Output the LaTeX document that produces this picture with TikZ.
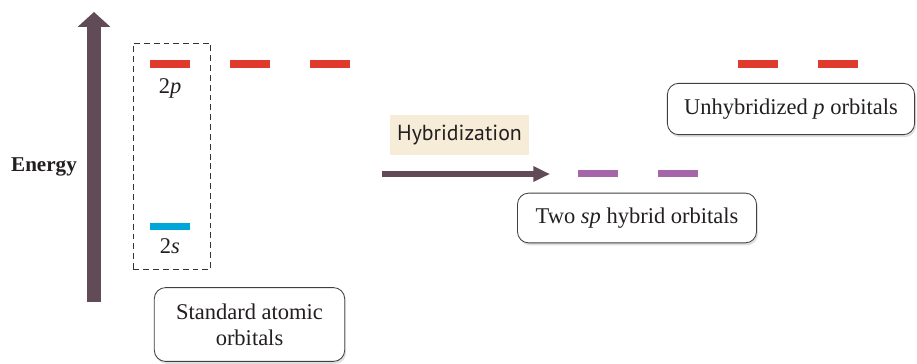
\documentclass[tikz,border=0pt]{standalone}
\usepackage{fontspec}
\setmainfont{Liberation Serif}
\newfontfamily\hybfont{PT Sans}
\usepackage{tikz}
\usetikzlibrary{arrows.meta,positioning,shadows}

\definecolor{orbred}{HTML}{E03A2F}
\definecolor{orbblue}{HTML}{00A6DA}
\definecolor{orbpurple}{HTML}{A566A9}
\definecolor{arrowplum}{HTML}{604B57}
\definecolor{hybtan}{HTML}{F6ECD8}
\definecolor{inkdark}{HTML}{231F20}

\begin{document}
\begin{tikzpicture}[
  x=0.025cm, y=-0.025cm,
  font=\fontsize{16}{18.5}\selectfont, text=inkdark,
  orb/.style={inner sep=0pt, minimum width=28.35pt, minimum height=5.3pt},
  lvl/.style={inner sep=0pt, font=\fontsize{16}{18.5}\selectfont},
  capbox/.style={
    rectangle, draw=black!75, fill=white, rounded corners=8pt,
    line width=0.6pt, align=center, inner sep=0pt,
    drop shadow={opacity=0.25, shadow xshift=1pt, shadow yshift=-1.8pt},
  },
  dashbox/.style={draw=black!80, line width=0.7pt, dash pattern=on 4.2pt off 2.8pt,
                  inner sep=0pt, minimum width=54.8pt, minimum height=161pt},
]
  \useasboundingbox (0,0) rectangle (917,363);
  % energy axis
  \coordinate (e-bot) at (94,302);
  \coordinate (e-top) at (94,12);
  \draw[arrowplum, line width=9.5pt, -{Triangle[width=22.7pt,length=10.6pt]}] (e-bot) -- (e-top);
  \node[font=\fontsize{15}{17}\selectfont\bfseries] (energy) at (44,167) {Energy};
  % standard atomic orbitals
  \node[dashbox] (std) at (172,156.3) {};
  \node[orb, fill=orbred] (p0) at (170,64) {};
  \node[orb, fill=orbred] (p1) at (250,64) {};
  \node[orb, fill=orbred] (p2) at (330,64) {};
  \node[orb, fill=orbblue] (s0) at (170,226.7) {};
  \node[lvl] (p-lbl) at (170,88) {2\textit{p}};
  \node[lvl] (s-lbl) at (170,246) {2\textit{s}};
  \node[capbox, minimum width=135.4pt, minimum height=52.5pt] (std-cap) at (249.5,324.5)
    {Standard atomic\\orbitals};
  % hybridization step
  \node[fill=hybtan, inner sep=0pt, minimum width=98.5pt, minimum height=28.3pt,
        font=\hybfont\fontsize{15.5}{17}\selectfont] (hyb) at (459.5,135) {Hybridization};
  \coordinate (h-start) at (382,174);
  \coordinate (h-end) at (550,174);
  \draw[arrowplum, line width=4pt, -{Triangle[width=10.4pt,length=11.8pt]}] (h-start) -- (h-end);
  % sp hybrids
  \node[orb, fill=orbpurple] (sp0) at (598,173.5) {};
  \node[orb, fill=orbpurple] (sp1) at (678,173.5) {};
  \node[capbox, minimum width=170pt, minimum height=35.4pt] (sp-cap) at (637,218)
    {Two \textit{sp} hybrid orbitals};
  % unhybridized p
  \node[orb, fill=orbred] (up0) at (758,64) {};
  \node[orb, fill=orbred] (up1) at (838,64) {};
  \node[capbox, minimum width=175.8pt, minimum height=36.5pt] (up-cap) at (791,109)
    {Unhybridized \textit{p} orbitals};
\end{tikzpicture}
\end{document}
